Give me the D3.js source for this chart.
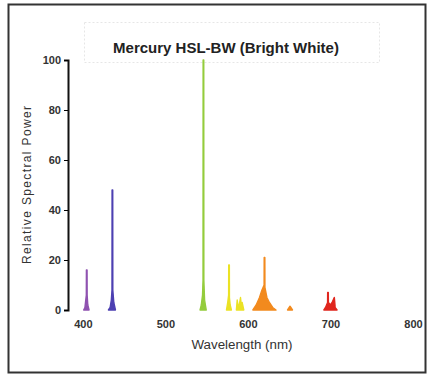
<!DOCTYPE html>
<html>
<head>
<meta charset="utf-8">
<script src="https://cdn.jsdelivr.net/npm/d3@7"></script>
<style>
  body { margin: 0; background: #fff; }
  svg { display: block; font-family: "Liberation Sans", Arial, sans-serif; }
</style>
</head>
<body>
<div class="graphic"></div>
<script>
// spectrum (nm, relative power)
var wavelengths = [
  401, 402.5, 403.5, 404.2, 404.3, 405.1, 405.2, 406, 407.5,
  431, 433, 434.5, 435.3, 435.4, 436.2, 436.3, 437.5, 439.5,
  542, 543.5, 545, 545.6, 545.7, 546.5, 546.6, 547.5, 549.5,
  574, 575.5, 576.6, 576.7, 577.5, 577.6, 578.5, 580,
  586, 587, 588, 589, 590, 591, 592, 593, 595,
  606, 610, 614, 617, 619.6, 619.7, 620.5, 620.6, 623, 626, 630, 634,
  648, 651, 654,
  692, 694, 696.5, 696.6, 697.4, 697.5, 700, 702, 704.6, 704.7, 705.5, 705.6, 708, 711
];
var power = [
  0, 1, 4, 6, 16, 16, 6, 2, 0,
  0, 1, 4, 8, 48, 48, 8, 3, 0,
  0, 2, 6, 12, 100, 100, 12, 4, 0,
  0, 3, 6, 18, 18, 5, 2, 0,
  0, 4, 2, 1, 3, 5, 2, 3, 0,
  0, 2, 5, 8, 10, 21, 21, 9, 5, 3, 1, 0,
  0, 1.5, 0,
  0, 1, 3, 7, 7, 3, 2, 3, 5, 5, 2, 1, 0
];
var bandEdges = [420, 500, 570, 600, 670];
var bandColors = ["#8f52b0", "#4d40b2", "#94cc3c", "#ebe224", "#f28a1e", "#e0261e"];
var xTicks = [400, 500, 600, 700, 800];
var yTicks = [0, 20, 40, 60, 80, 100];

var W = 427, H = 376;
var svg = d3.select(".graphic").append("svg")
  .attr("width", W).attr("height", H);

// outer frame
svg.append("rect")
  .attr("x", 8.5).attr("y", 4.5)
  .attr("width", 417).attr("height", 368)
  .attr("fill", "none").attr("stroke", "#333").attr("stroke-width", 2);

// faint title box
svg.append("rect")
  .attr("x", 84.5).attr("y", 22.5)
  .attr("width", 295).attr("height", 40)
  .attr("fill", "none").attr("stroke", "#e6e6e6")
  .attr("stroke-dasharray", "2,2");

svg.append("text")
  .attr("x", 226).attr("y", 53)
  .attr("text-anchor", "middle")
  .attr("font-size", 15).attr("font-weight", "bold")
  .attr("fill", "#222")
  .text("Mercury HSL-BW (Bright White)");

var x = d3.scaleLinear().domain([382, 800]).range([68, 413]);
var y = d3.scaleLinear().domain([0, 100]).range([310, 60]);
var color = d3.scaleThreshold().domain(bandEdges).range(bandColors);

var pts = wavelengths.map(function(w, i) { return { w: w, p: power[i] }; });

// group points into peaks (runs that start and end at zero)
var peaks = [];
var cur = [];
pts.forEach(function(d) {
  cur.push(d);
  if (d.p === 0 && cur.length > 1) { peaks.push(cur); cur = []; }
});

var area = d3.area()
  .x(function(d) { return x(d.w); })
  .y0(y(0))
  .y1(function(d) { return y(d.p); });

function peakColor(d) {
  var top = d3.greatest(d, function(e) { return e.p; });
  return color(top.w);
}

svg.append("g").selectAll("path")
  .data(peaks)
  .join("path")
  .attr("d", area)
  .attr("fill", peakColor)
  .attr("stroke", peakColor)
  .attr("stroke-width", 1.4)
  .attr("stroke-linejoin", "round");

// y axis
var yAxis = svg.append("g")
  .attr("transform", "translate(68,0)")
  .call(d3.axisLeft(y).tickValues(yTicks).tickSize(4).tickPadding(3));
yAxis.select(".domain").attr("stroke", "#111").attr("stroke-width", 2);
yAxis.selectAll("text")
  .attr("font-size", 11).attr("font-weight", "bold").attr("fill", "#333")
  .attr("font-family", "Liberation Sans, Arial, sans-serif");

// x axis (no baseline drawn)
var xAxis = svg.append("g")
  .attr("transform", "translate(0,314)")
  .call(d3.axisBottom(x).tickValues(xTicks).tickSize(0).tickPadding(6));
xAxis.select(".domain").remove();
xAxis.selectAll("text")
  .attr("font-size", 11).attr("font-weight", "bold").attr("fill", "#333")
  .attr("font-family", "Liberation Sans, Arial, sans-serif");

svg.append("text")
  .attr("transform", "translate(31,185) rotate(-90)")
  .attr("text-anchor", "middle")
  .attr("font-size", 12).attr("fill", "#333")
  .attr("textLength", 158).attr("lengthAdjust", "spacing")
  .text("Relative Spectral Power");

svg.append("text")
  .attr("x", 242).attr("y", 349)
  .attr("text-anchor", "middle")
  .attr("font-size", 12).attr("fill", "#333")
  .attr("textLength", 101).attr("lengthAdjust", "spacingAndGlyphs")
  .text("Wavelength (nm)");
</script>
</body>
</html>
